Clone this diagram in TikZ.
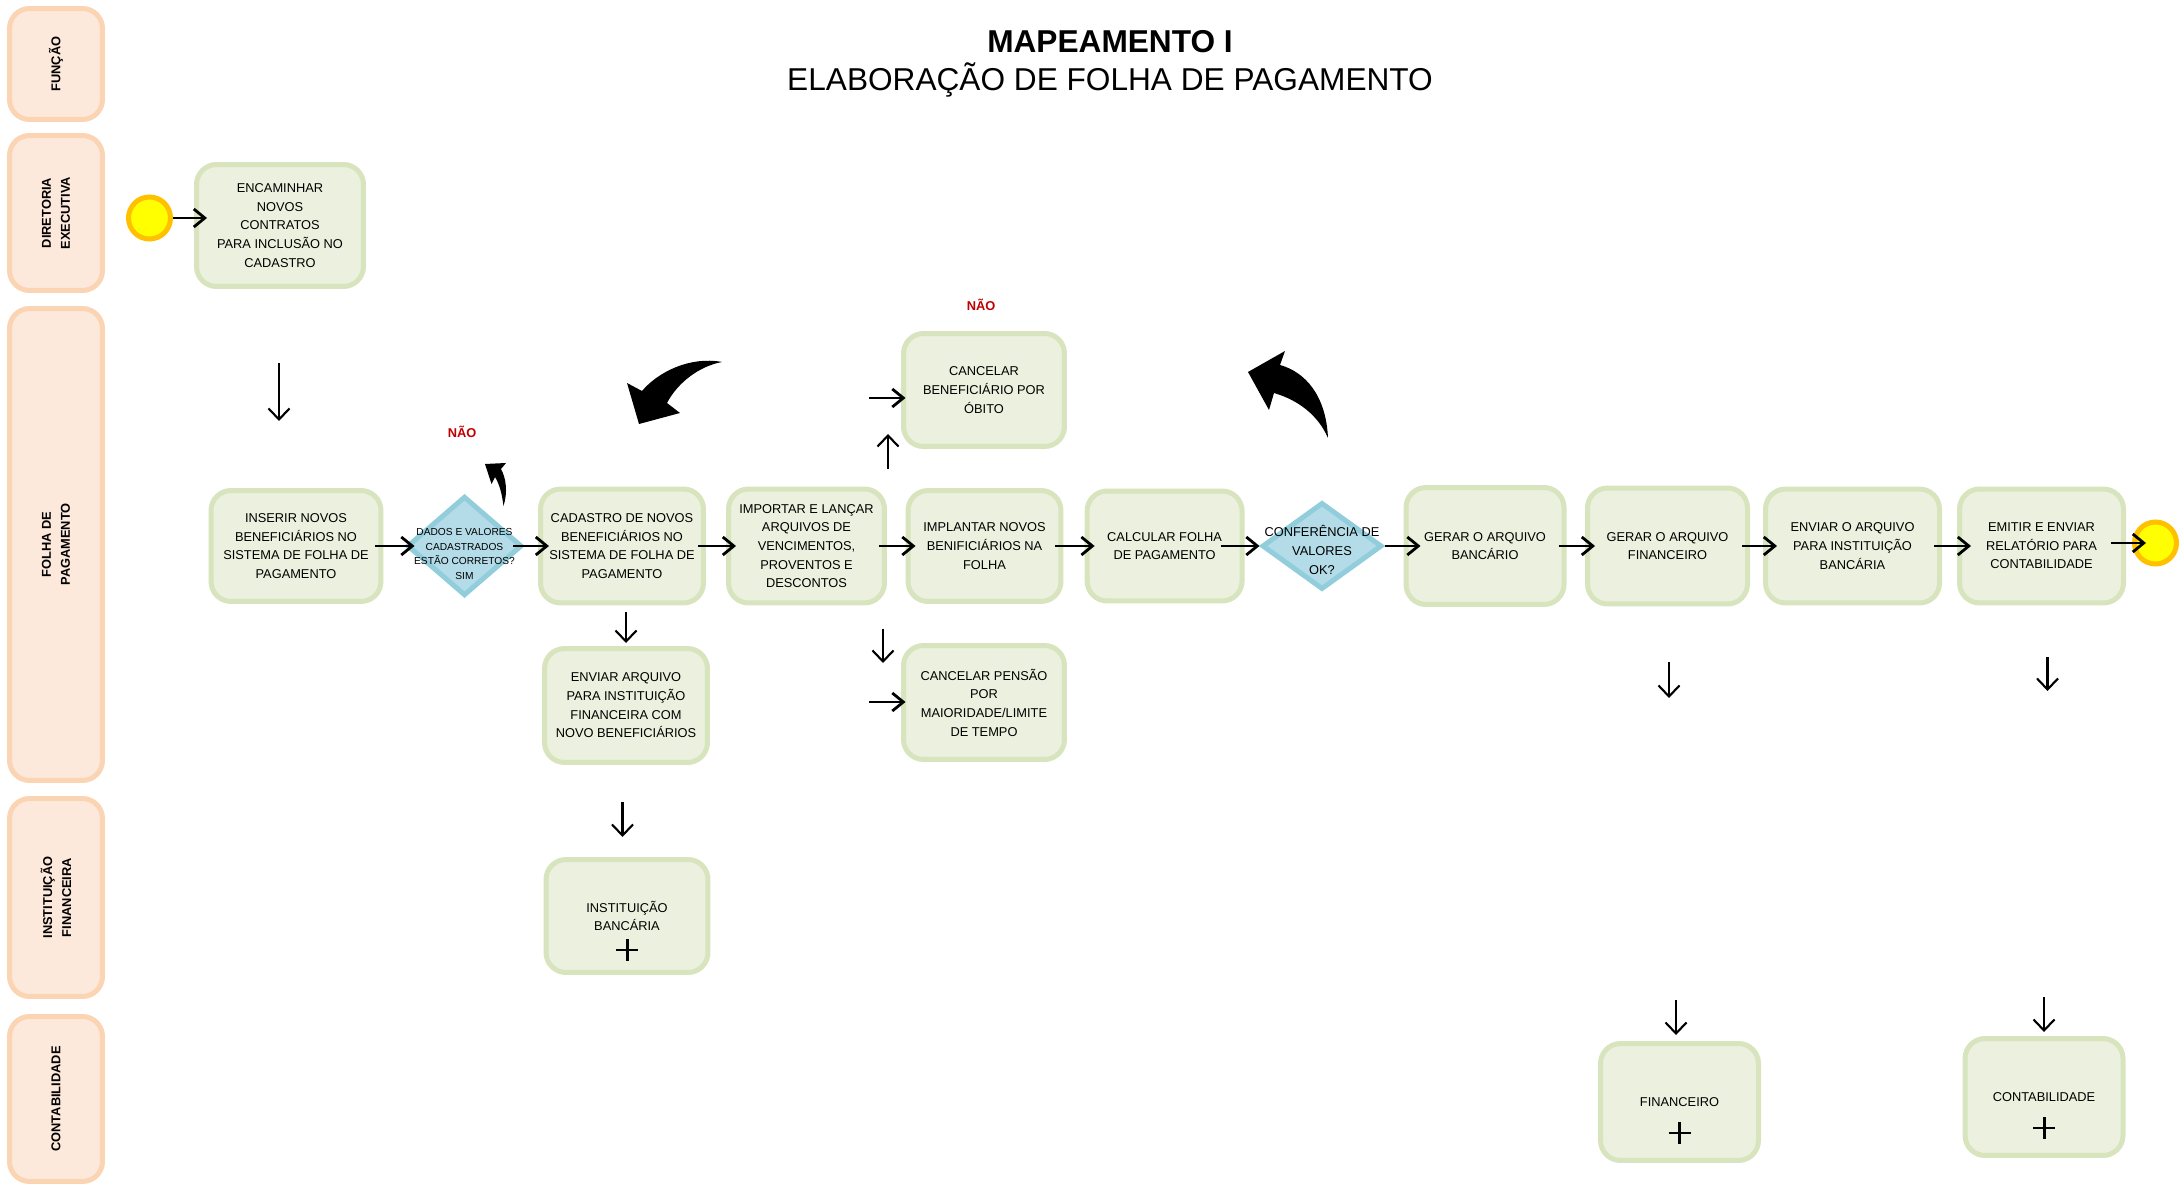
\documentclass[tikz,border=0pt]{standalone}
\usepackage{fontspec}
\setmainfont{Liberation Sans}
\usepackage{xcolor}
\usetikzlibrary{calc, shapes.geometric, arrows.meta}

\definecolor{boxfill}{HTML}{EBF1DE}
\definecolor{boxdraw}{HTML}{D7E4BD}
\definecolor{lanefill}{HTML}{FDE9DB}
\definecolor{lanedraw}{HTML}{FBD4B4}
\definecolor{decfill}{HTML}{B4DCE8}
\definecolor{decdraw}{HTML}{92CDDC}
\definecolor{evtfill}{HTML}{FFFF00}
\definecolor{evtdraw}{HTML}{FFC000}
\definecolor{naored}{HTML}{C00000}

\newcommand{\bxfont}{\fontsize{7.3}{10.6}\selectfont}
\newcommand{\dcfont}{\fontsize{5.8}{8.5}\selectfont}
\newcommand{\lnfont}{\bfseries\fontsize{7.3}{10.8}\selectfont}
\newcommand{\ttlfont}{\fontsize{18}{22}\selectfont}

\tikzset{
  lane/.style={draw=lanedraw, fill=lanefill, line width=0.1cm, rounded corners=0.4cm,
    rotate=90, minimum height=1.86cm, align=center, inner sep=0pt, font=\lnfont},
  box/.style={draw=boxdraw, fill=boxfill, line width=0.1cm, rounded corners=0.4cm,
    minimum width=3.2cm, minimum height=2.28cm, align=center, inner sep=0pt, font=\bxfont},
  dec/.style={diamond, draw=decdraw, fill=decfill, line width=0.1cm, inner sep=0pt},
  dtext/.style={align=center, inner sep=0pt},
  evt/.style={circle, draw=evtdraw, fill=evtfill, line width=0.1cm, minimum size=0.84cm, inner sep=0pt},
  nao/.style={font=\bfseries\fontsize{7.3}{9}\selectfont, text=naored},
  harr/.style={line width=1.6pt, -{Straight Barb[length=0.22cm, width=0.36cm]},
    shorten <=-0.16cm, shorten >=-0.2cm},
  varr/.style={line width=1.2pt, -{Straight Barb[length=0.22cm, width=0.42cm]}},
  plus/.style={line width=1.7pt},
  blockarr/.style={fill=black}
}

\begin{document}
\begin{tikzpicture}[x=0.02cm, y=-0.02cm]
  \useasboundingbox (0,0) rectangle (2181,1185);%

  % lanes
  \node[lane, minimum width=2.22cm] (lnFun) at (56,64) {FUNÇÃO};%
  \node[lane, minimum width=3.1cm] (lnDir) at (56,213) {DIRETORIA\\EXECUTIVA};%
  \node[lane, minimum width=9.44cm] (lnFol) at (56,544.5) {FOLHA DE\\PAGAMENTO};%
  \node[lane, minimum width=3.96cm] (lnIns) at (56,897.5) {INSTITUIÇÃO\\FINANCEIRA};%
  \node[lane, minimum width=3.3cm] (lnCon) at (56,1099) {CONTABILIDADE};%

  \node[font=\ttlfont\bfseries, anchor=base] (ttl) at (1110,53) {MAPEAMENTO I};%
  \node[font=\ttlfont, anchor=base] (sub) at (1110,91) {ELABORAÇÃO DE FOLHA DE PAGAMENTO};%

  % events and tasks
  \node[evt] (start) at (149.5,218) {};%
  \node[box, minimum width=3.34cm, minimum height=2.44cm] (enc) at (280,225.5)
    {ENCAMINHAR\\NOVOS\\CONTRATOS\\PARA INCLUSÃO NO\\CADASTRO};%
  \node[box, minimum width=3.4cm, minimum height=2.22cm] (ins) at (296,546)
    {INSERIR NOVOS\\BENEFICIÁRIOS NO\\SISTEMA DE FOLHA DE\\PAGAMENTO};%
  \node[dec, minimum width=2.3cm, minimum height=1.99cm,
    label={[dtext, font=\dcfont, yshift=-0.16cm]center:{DADOS E VALORES\\CADASTRADOS\\ESTÃO CORRETOS?\\SIM}}]
    (d1) at (464.5,546) {};%
  \node[box, minimum width=3.26cm] (cad) at (622,546)
    {CADASTRO DE NOVOS\\BENEFICIÁRIOS NO\\SISTEMA DE FOLHA DE\\PAGAMENTO};%
  \node[box, minimum width=3.12cm] (imp) at (806.5,546)
    {IMPORTAR E LANÇAR\\ARQUIVOS DE\\VENCIMENTOS,\\PROVENTOS E\\DESCONTOS};%
  \node[box, minimum width=3.06cm, minimum height=2.22cm] (impl) at (984.5,546)
    {IMPLANTAR NOVOS\\BENIFICIÁRIOS NA\\FOLHA};%
  \node[box, minimum width=3.1cm, minimum height=2.2cm] (calc) at (1164.6,546)
    {CALCULAR FOLHA\\DE PAGAMENTO};%
  \node[dec, minimum width=2.4cm, minimum height=1.74cm,
    label={[dtext, font=\bxfont, yshift=-0.08cm]center:{CONFERÊNCIA DE\\VALORES\\OK?}}]
    (conf) at (1322,546) {};%
  \node[box, minimum width=3.16cm, minimum height=2.34cm] (gb) at (1485,546)
    {GERAR O ARQUIVO\\BANCÁRIO};%
  \node[box, minimum height=2.32cm] (gf) at (1667.5,546)
    {GERAR O ARQUIVO\\FINANCEIRO};%
  \node[box, minimum width=3.48cm] (env) at (1852.5,546)
    {ENVIAR O ARQUIVO\\PARA INSTITUIÇÃO\\BANCÁRIA};%
  \node[box, minimum width=3.28cm] (emi) at (2041.5,546)
    {EMITIR E ENVIAR\\RELATÓRIO PARA\\CONTABILIDADE};%
  \node[evt] (end) at (2155.5,543) {};%

  \node[box, minimum width=3.22cm, minimum height=2.26cm] (obito) at (984,390)
    {CANCELAR\\BENEFICIÁRIO POR\\ÓBITO};%
  \node[box, minimum width=3.22cm] (pensao) at (984,702.5)
    {CANCELAR PENSÃO\\POR\\MAIORIDADE/LIMITE\\DE TEMPO};%
  \node[box, minimum width=3.26cm] (envarq) at (626,705.5)
    {ENVIAR ARQUIVO\\PARA INSTITUIÇÃO\\FINANCEIRA COM\\NOVO BENEFICIÁRIOS};%
  \node[box, minimum width=3.24cm, minimum height=2.26cm] (banc) at (627,916)
    {INSTITUIÇÃO\\BANCÁRIA};%
  \node[box, minimum width=3.16cm, minimum height=2.34cm] (fin) at (1679.5,1102) {FINANCEIRO};%
  \node[box, minimum width=3.16cm, minimum height=2.34cm] (cont) at (2044,1097) {CONTABILIDADE};%

  \node[nao] (nao1) at (462,432) {NÃO};%
  \node[nao] (nao2) at (981,305) {NÃO};%

  % sub-process markers
  \draw[plus] ($(banc.center)+(0,34)$) +(-11,0) -- +(11,0) +(0,-11) -- +(0,11);%
  \draw[plus] ($(fin.center)+(0,31)$) +(-11,0) -- +(11,0) +(0,-11) -- +(0,11);%
  \draw[plus] ($(cont.center)+(0,31)$) +(-11,0) -- +(11,0) +(0,-11) -- +(0,11);%

  % main flow
  \draw[harr, shorten <=0pt, shorten >=-0.26cm] (start) -- (enc.west |- start);%
  \draw[harr] (ins) -- (d1);%
  \draw[harr, shorten <=-0.22cm, shorten >=-0.22cm] (d1) -- (cad);%
  \draw[harr] (cad) -- (imp);%
  \draw[harr] (imp) -- (impl);%
  \draw[harr] (impl) -- (calc);%
  \draw[harr, shorten <=-0.47cm, shorten >=0pt] (calc) -- (conf);%
  \draw[harr, shorten <=0pt, shorten >=-0.34cm] (conf) -- (gb);%
  \draw[harr] (gb) -- (gf);%
  \draw[harr, shorten >=-0.28cm] (gf) -- (env);%
  \draw[harr, shorten >=-0.28cm] (env) -- (emi);%
  \draw[harr, shorten <=-0.3cm, shorten >=-0.28cm] (emi.east |- end) -- (end);%
  \draw[varr, shorten <=0.14cm, shorten >=0.06cm] (envarq.north |- cad.south) -- (envarq.north);%

  % loose arrows
  \coordinate (encA) at (279,363); \coordinate (encB) at (279,421);%
  \coordinate (envA) at (622.5,802); \coordinate (envB) at (622.5,837);%
  \coordinate (upA) at (888,469); \coordinate (upB) at (888,434);%
  \coordinate (obA) at (869,398);%
  \coordinate (dnA) at (883,629); \coordinate (dnB) at (883,663);%
  \coordinate (peA) at (869,702);%
  \coordinate (gfA) at (1669,662); \coordinate (gfB) at (1669,698);%
  \coordinate (finA) at (1676,1000); \coordinate (finB) at (1676,1035);%
  \coordinate (emA) at (2047.5,657); \coordinate (emB) at (2047.5,691);%
  \coordinate (ctA) at (2044,997); \coordinate (ctB) at (2044,1032);%

  \draw[varr] (encA) -- (encB);%
  \draw[varr] (envA) -- (envB);%
  \draw[varr] (upA) -- (upB);%
  \draw[harr, shorten <=0pt, shorten >=-0.09cm] (obA) -- (obA -| obito.west);%
  \draw[varr] (dnA) -- (dnB);%
  \draw[harr, shorten <=0pt, shorten >=-0.09cm] (peA) -- (peA -| pensao.west);%
  \draw[varr] (gfA) -- (gfB);%
  \draw[varr] (finA) -- (finB);%
  \draw[varr] (emA) -- (emB);%
  \draw[varr] (ctA) -- (ctB);%

  % curved return arrows
  \fill[blockarr] (642,391) .. controls (658,372) and (690,356) .. (722,362)
    .. controls (700,366) and (678,382) .. (667,403) -- (680,413) -- (639,424) -- (627,383) -- cycle;%
  \fill[blockarr] (1280,365) .. controls (1305,372) and (1326,395) .. (1328,438)
    .. controls (1318,415) and (1298,400) .. (1274,393) -- (1269,410) -- (1248,372) -- (1285,351) -- cycle;%
  \fill[blockarr] (501,469) .. controls (506,478) and (508,492) .. (503.5,506)
    .. controls (502,495) and (500,485) .. (495,477) -- (491.5,484) -- (485,464) -- (506,463) -- cycle;%
\end{tikzpicture}
\end{document}
